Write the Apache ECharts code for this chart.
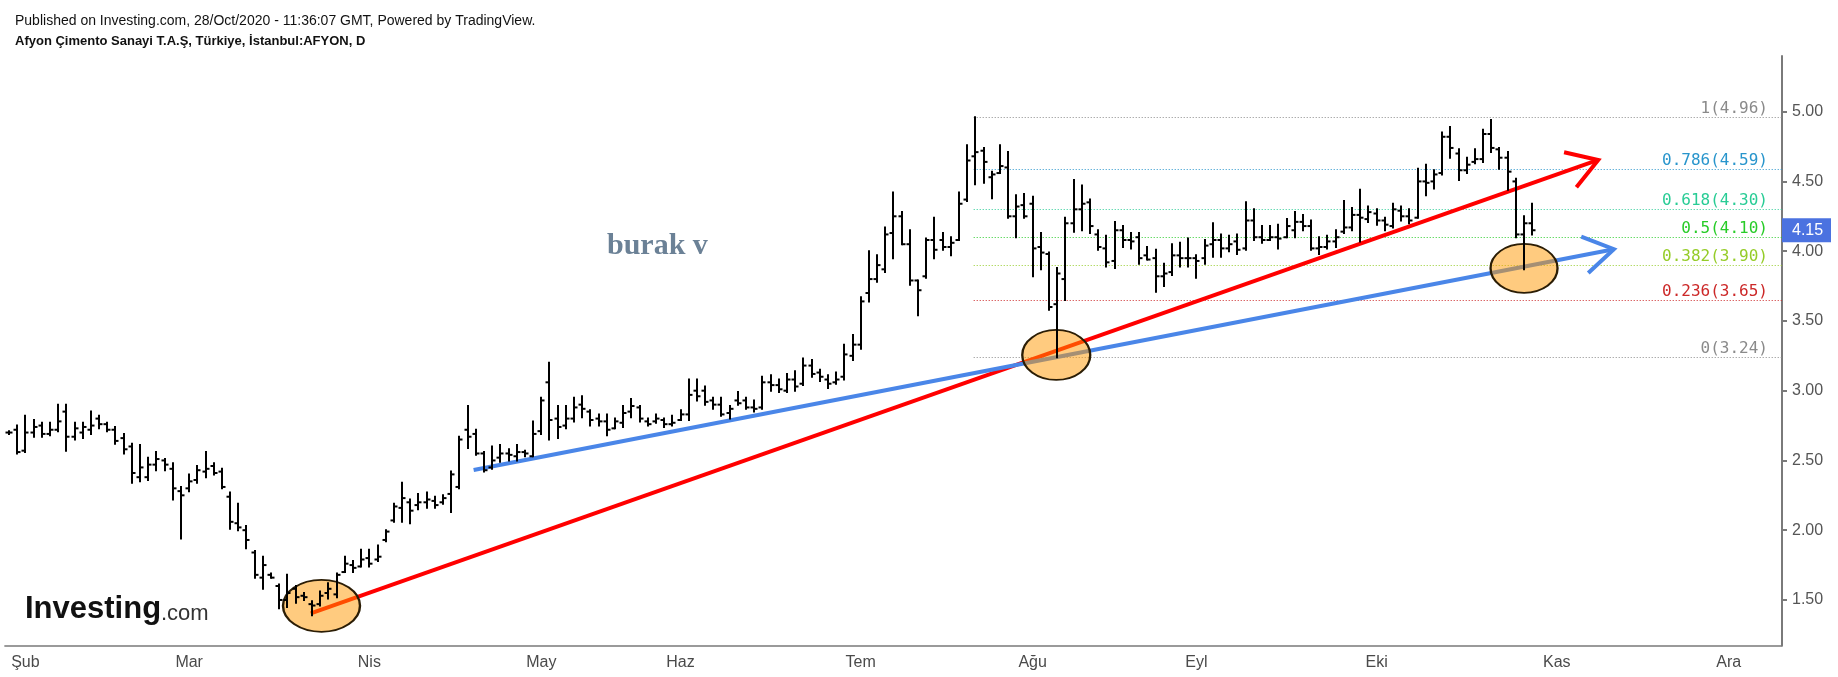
<!DOCTYPE html>
<html><head><meta charset="utf-8">
<script src="https://cdn.jsdelivr.net/npm/echarts@6/dist/echarts.min.js"></script>
<style>html,body{margin:0;padding:0;background:#fff}#c{width:1838px;height:677px}</style>
</head><body><div id="c"></div>
<script>
// ---- data (AFYON daily OHLC, 30 Jan 2020 - 28 Oct 2020) ----
const opens = [2.70,2.72,2.57,2.70,2.75,2.69,2.72,2.85,2.67,2.70,
2.72,2.80,2.76,2.72,2.66,2.60,2.38,2.38,2.47,2.50,
2.44,2.28,2.30,2.36,2.42,2.46,2.42,2.24,2.05,2.00,
1.84,1.66,1.68,1.60,1.50,1.58,1.53,1.47,1.47,1.55,
1.54,1.70,1.75,1.74,1.80,1.79,1.93,2.07,2.16,2.20,
2.18,2.20,2.21,2.20,2.26,2.31,2.72,2.69,2.55,2.45,
2.52,2.55,2.53,2.56,2.53,2.71,3.06,2.80,2.75,2.80,
2.90,2.85,2.80,2.78,2.73,2.77,2.85,2.88,2.78,2.78,
2.79,2.76,2.79,2.83,3.00,3.00,2.93,2.90,2.84,2.93,
2.93,2.88,2.88,3.06,3.04,3.00,3.08,3.05,3.18,3.13,
3.08,3.06,3.10,3.25,3.33,3.70,3.80,3.87,4.13,4.25,
4.05,3.79,3.82,4.08,4.08,4.03,4.08,4.37,4.68,4.72,
4.53,4.56,4.60,4.25,4.33,4.34,4.03,3.98,3.62,3.80,
4.20,4.30,4.35,4.12,4.02,3.93,4.15,4.08,4.10,3.97,
3.95,3.82,3.85,3.97,3.95,3.95,3.95,4.05,4.08,4.02,
4.07,4.02,4.22,4.10,4.08,4.10,4.10,4.15,4.21,4.18,
4.02,4.03,4.07,4.14,4.17,4.26,4.23,4.27,4.22,4.18,
4.29,4.25,4.24,4.50,4.50,4.56,4.82,4.70,4.58,4.64,
4.66,4.84,4.73,4.67,4.50,4.12,4.20];
const highs = [2.71,2.75,2.82,2.79,2.77,2.77,2.90,2.90,2.77,2.77,
2.85,2.82,2.77,2.74,2.69,2.62,2.61,2.52,2.56,2.51,
2.48,2.31,2.40,2.46,2.56,2.48,2.44,2.27,2.19,2.03,
1.85,1.81,1.69,1.61,1.68,1.60,1.55,1.49,1.56,1.62,
1.69,1.81,1.78,1.86,1.86,1.89,2.00,2.19,2.34,2.22,
2.26,2.27,2.24,2.25,2.42,2.67,2.89,2.72,2.56,2.60,
2.61,2.58,2.61,2.57,2.78,2.95,3.20,2.89,2.89,2.95,
2.96,2.86,2.83,2.83,2.80,2.89,2.94,2.89,2.80,2.83,
2.80,2.82,2.86,3.08,3.08,3.03,2.95,2.95,2.89,2.99,
2.95,2.93,3.10,3.11,3.08,3.12,3.14,3.23,3.22,3.15,
3.11,3.13,3.33,3.40,3.67,4.00,3.97,4.17,4.42,4.28,
4.15,3.79,4.09,4.24,4.13,4.10,4.42,4.76,4.96,4.74,
4.57,4.76,4.71,4.40,4.41,4.39,4.13,3.99,3.88,4.24,
4.51,4.47,4.37,4.15,4.11,4.21,4.18,4.13,4.13,4.03,
4.01,3.91,4.05,4.06,4.09,3.97,4.08,4.20,4.12,4.11,
4.12,4.35,4.30,4.18,4.18,4.19,4.23,4.28,4.26,4.22,
4.10,4.11,4.15,4.36,4.31,4.44,4.32,4.30,4.24,4.34,
4.32,4.30,4.59,4.62,4.58,4.85,4.89,4.73,4.67,4.73,
4.87,4.94,4.74,4.71,4.52,4.25,4.34];
const lows = [2.69,2.55,2.56,2.67,2.67,2.68,2.71,2.57,2.65,2.66,
2.69,2.73,2.71,2.62,2.55,2.34,2.35,2.36,2.43,2.43,
2.22,1.94,2.28,2.34,2.38,2.40,2.30,2.01,2.00,1.87,
1.66,1.58,1.66,1.44,1.45,1.48,1.50,1.39,1.46,1.51,
1.52,1.70,1.70,1.74,1.74,1.78,1.92,2.06,2.06,2.05,
2.15,2.16,2.16,2.19,2.13,2.30,2.59,2.54,2.42,2.44,
2.49,2.50,2.50,2.53,2.53,2.69,2.65,2.66,2.73,2.78,
2.81,2.75,2.75,2.68,2.73,2.74,2.81,2.78,2.75,2.77,
2.74,2.75,2.79,2.79,2.93,2.90,2.87,2.82,2.80,2.90,
2.87,2.85,2.87,3.00,2.99,2.99,3.00,3.04,3.10,3.07,
3.02,3.05,3.08,3.22,3.30,3.64,3.78,3.85,3.95,4.05,
3.76,3.54,3.81,3.95,4.01,3.97,4.08,4.36,4.48,4.49,
4.38,4.56,4.24,4.10,4.24,3.82,3.87,3.58,3.24,3.65,
4.14,4.15,4.13,4.01,3.89,3.88,4.03,4.02,3.91,3.94,
3.71,3.75,3.83,3.89,3.89,3.81,3.91,3.96,3.96,4.00,
3.98,4.01,4.08,4.06,4.08,4.02,4.10,4.10,4.15,4.01,
3.98,4.02,4.03,4.13,4.15,4.07,4.21,4.19,4.15,4.17,
4.22,4.20,4.24,4.40,4.45,4.55,4.67,4.51,4.56,4.63,
4.64,4.71,4.59,4.44,4.10,3.87,4.12];
const closes = [2.70,2.56,2.70,2.74,2.69,2.72,2.78,2.67,2.73,2.74,
2.75,2.76,2.72,2.64,2.58,2.41,2.45,2.47,2.51,2.47,
2.30,2.25,2.35,2.43,2.44,2.41,2.31,2.06,2.02,1.93,
1.68,1.75,1.66,1.50,1.55,1.52,1.52,1.46,1.53,1.58,
1.68,1.76,1.73,1.79,1.76,1.81,1.99,2.17,2.23,2.14,
2.20,2.22,2.18,2.23,2.40,2.65,2.67,2.55,2.43,2.50,
2.55,2.54,2.56,2.55,2.69,2.93,2.79,2.74,2.80,2.88,
2.87,2.79,2.78,2.72,2.78,2.84,2.89,2.80,2.76,2.80,
2.76,2.77,2.83,2.97,2.96,2.92,2.90,2.83,2.87,2.91,
2.88,2.87,3.06,3.04,3.01,3.08,3.03,3.18,3.12,3.10,
3.05,3.08,3.26,3.33,3.64,3.80,3.90,4.12,4.25,4.05,
3.79,3.72,4.08,4.01,4.03,4.06,4.34,4.65,4.71,4.64,
4.55,4.61,4.25,4.32,4.25,4.02,3.99,3.60,3.84,4.20,
4.30,4.34,4.18,4.03,3.92,4.15,4.08,4.07,3.95,3.94,
3.82,3.84,3.97,3.95,3.95,3.93,4.04,4.08,4.02,4.05,
4.01,4.22,4.10,4.08,4.10,4.09,4.18,4.21,4.18,4.02,
4.03,4.07,4.10,4.17,4.26,4.24,4.28,4.22,4.19,4.30,
4.25,4.22,4.50,4.49,4.55,4.82,4.74,4.58,4.62,4.66,
4.84,4.74,4.67,4.57,4.12,4.20,4.15];

// trading calendar (categories)
const firstDate = '2020-01-30';
const holidays = ['2020-04-23','2020-05-01','2020-05-19','2020-05-25','2020-05-26','2020-07-15','2020-07-31','2020-08-03'];
const futureDays = 30;
const monthNames = ['Oca','Şub','Mar','Nis','May','Haz','Tem','Ağu','Eyl','Eki','Kas','Ara'];
const priceTicks = [1.5,2.0,2.5,3.0,3.5,4.0,4.5,5.0];

// Fibonacci retracement (drawn from bar of the 4.96 high to the right edge)
const fibStart = 117.8;
const fibRatios = ['1','0.786','0.618','0.5','0.382','0.236','0'];
const fibPrices = [4.96,4.59,4.30,4.10,3.90,3.65,3.24];
const lastPrice = 4.15;

// drawings: trend lines (x = bar index, y = price) and ellipse centres
const trendStart = [[36.85,1.404],[56.74,2.431]];
const trendEnd = [[194.06,4.654],[195.97,4.014]];
const ellipseCenters = [[38.16,1.458],[127.88,3.256],[185.0,3.877]];

// ---- build ----
function buildDates(){
  const out=[]; const d=new Date(firstDate+'T00:00:00Z');
  while(out.length<closes.length){
    const w=d.getUTCDay(), s=d.toISOString().slice(0,10);
    if(w!==0&&w!==6&&holidays.indexOf(s)<0) out.push(s);
    d.setUTCDate(d.getUTCDate()+1);
  }
  let f=0;
  while(f<futureDays){
    const w=d.getUTCDay();
    if(w!==0&&w!==6){out.push(d.toISOString().slice(0,10));f++;}
    d.setUTCDate(d.getUTCDate()+1);
  }
  return out;
}
const dates = buildDates();
const monthOf = s => +s.slice(5,7)-1;
const isMonthStart = i => i>0 && monthOf(dates[i])!==monthOf(dates[i-1]);

const trendColors = ['#ff0000','#4a86e8'];
const fibColors = ['#8a8a8a','#2895cc','#28cc95','#28cc28','#95cc28','#cc2828','#8a8a8a'];
const ellipseSizes = [[77,52],[68,50],[67,49]];

const chart = echarts.init(document.getElementById('c'), null, {renderer:'canvas'});
const N = dates.length;
const axisGray = '#7a7a7a';

chart.setOption({
  animation:false,
  backgroundColor:'#ffffff',
  grid:{left:4.9, right:56, top:56, bottom:31.5, containLabel:false},
  xAxis:[{
    type:'category', data:dates, boundaryGap:true,
    axisLine:{show:true, onZero:false, lineStyle:{color:axisGray, width:1.5}},
    axisTick:{show:false},
    splitLine:{show:false},
    axisLabel:{interval:(i)=>isMonthStart(i), formatter:(v)=>monthNames[monthOf(v)],
      color:'#4a4a4a', fontSize:16, fontFamily:'"Liberation Sans", Arial, sans-serif', margin:9}
  },{
    type:'value', min:-0.5, max:N-0.5, show:false,
    axisLine:{show:false, onZero:false}, splitLine:{show:false}
  }],
  yAxis:{
    type:'value', position:'right', min:1.1735, max:5.399, scale:true,
    axisLine:{show:true, onZero:false, lineStyle:{color:axisGray, width:2}},
    axisTick:{show:true, customValues:priceTicks, length:5, lineStyle:{color:axisGray, width:2}},
    axisLabel:{customValues:priceTicks, formatter:(v)=>v.toFixed(2), color:'#555555', fontSize:16,
      fontFamily:'"Liberation Sans", Arial, sans-serif', margin:10},
    splitLine:{show:false}
  },
  graphic:[
    {type:'text', left:15, top:14, silent:true, style:{text:'Published on Investing.com, 28/Oct/2020 - 11:36:07 GMT, Powered by TradingView.', font:'14px "Liberation Sans", Arial, sans-serif', fill:'#111'}},
    {type:'text', left:15, top:35, silent:true, style:{text:'Afyon Çimento Sanayi T.A.Ş, Türkiye, İstanbul:AFYON, D', font:'bold 13px "Liberation Sans", Arial, sans-serif', fill:'#111'}},
    {type:'text', left:607, top:231, silent:true, style:{text:'burak v', font:'bold 30px "Liberation Serif", "Times New Roman", serif', fill:'#6b8196'}},
    {type:'text', left:25, top:594, silent:true, style:{text:'Investing', font:'bold 31px "Liberation Sans", Arial, sans-serif', fill:'#111'}},
    {type:'text', left:161, top:603, silent:true, style:{text:'.com', font:'22px "Liberation Sans", Arial, sans-serif', fill:'#333'}}
  ],
  series:[
    { // trend lines with open arrow heads
      type:'custom', xAxisIndex:1, yAxisIndex:0, z:3, clip:false, silent:true,
      data: trendStart.map((s,i)=>[s[0],s[1],trendEnd[i][0],trendEnd[i][1]]),
      encode:{x:[0,2], y:[1,3]},
      renderItem:(params, api)=>{
        const a = api.coord([api.value(0), api.value(1)]);
        const b = api.coord([api.value(2), api.value(3)]);
        const col = trendColors[params.dataIndex];
        const ang = Math.atan2(a[1]-b[1], a[0]-b[0]);
        const L = 35, sp = 32*Math.PI/180;
        const p1 = [b[0]+L*Math.cos(ang+sp), b[1]+L*Math.sin(ang+sp)];
        const p2 = [b[0]+L*Math.cos(ang-sp), b[1]+L*Math.sin(ang-sp)];
        return {type:'group', children:[
          {type:'line', shape:{x1:a[0],y1:a[1],x2:b[0],y2:b[1]}, style:{stroke:col, lineWidth:4}},
          {type:'polyline', shape:{points:[p1,b,p2]}, style:{stroke:col, lineWidth:4, fill:null, lineJoin:'miter'}}
        ]};
      }
    },
    { // fibonacci levels
      type:'custom', xAxisIndex:1, yAxisIndex:0, z:2, clip:false, silent:true,
      data: fibPrices.map(p=>[fibStart,p]),
      encode:{x:0, y:1},
      renderItem:(params, api)=>{
        const s = api.coord([api.value(0), api.value(1)]);
        const right = params.coordSys.x + params.coordSys.width;
        const col = fibColors[params.dataIndex];
        const y = Math.round(s[1])+0.5;
        return {type:'group', children:[
          {type:'line', shape:{x1:s[0],y1:y,x2:right,y2:y}, style:{stroke:col, lineWidth:1, lineDash:[1,2]}},
          {type:'text', style:{text:fibRatios[params.dataIndex]+'('+api.value(1).toFixed(2)+')',
            x:right-14, y:y-9, align:'right', verticalAlign:'middle',
            font:'16px "DejaVu Sans Mono", monospace', fill:col}}
        ]};
      }
    },
    { // highlight ellipses
      type:'scatter', xAxisIndex:1, yAxisIndex:0, z:4, silent:true,
      data: ellipseCenters.map((c,i)=>({value:c, symbolSize:ellipseSizes[i]})),
      symbol:'circle',
      itemStyle:{color:'rgba(255,152,0,0.5)', borderColor:'#2b1d05', borderWidth:2, opacity:1}
    },
    { // OHLC bars
      type:'custom', xAxisIndex:0, yAxisIndex:0, z:5, silent:true,
      data: closes.map((c,i)=>[i, opens[i], highs[i], lows[i], c]),
      encode:{x:0, y:[1,2,3,4]},
      renderItem:(params, api)=>{
        const i = api.value(0);
        const pO = api.coord([i, api.value(1)]);
        const pH = api.coord([i, api.value(2)]);
        const pL = api.coord([i, api.value(3)]);
        const pC = api.coord([i, api.value(4)]);
        const x = Math.round(pH[0]);
        const st = {stroke:'#000', lineWidth:2};
        return {type:'group', children:[
          {type:'line', shape:{x1:x,y1:pH[1]-1,x2:x,y2:pL[1]+1}, style:st},
          {type:'line', shape:{x1:x-3.5,y1:pO[1],x2:x,y2:pO[1]}, style:st},
          {type:'line', shape:{x1:x,y1:pC[1],x2:x+3.5,y2:pC[1]}, style:st}
        ]};
      }
    },
    { // last price tag on the price axis
      type:'custom', xAxisIndex:1, yAxisIndex:0, z:10, clip:false, silent:true,
      data:[[closes.length-1, lastPrice]],
      encode:{x:0, y:1},
      renderItem:(params, api)=>{
        const c = api.coord([api.value(0), api.value(1)]);
        const right = params.coordSys.x + params.coordSys.width;
        return {type:'group', children:[
          {type:'rect', shape:{x:right, y:c[1]-12, width:49, height:24}, style:{fill:'#4b72e0'}},
          {type:'text', style:{text:api.value(1).toFixed(2), x:right+10, y:c[1], verticalAlign:'middle', align:'left',
            font:'16px "Liberation Sans", Arial, sans-serif', fill:'#ffffff'}}
        ]};
      }
    }
  ]
});
</script>
</body></html>
